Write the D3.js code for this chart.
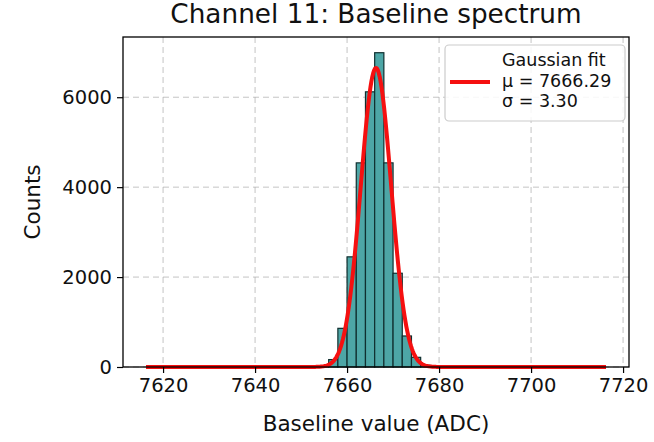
<!DOCTYPE html>
<html>
<head>
<meta charset="utf-8">
<script src="https://cdn.jsdelivr.net/npm/d3@7"></script>
<style>
  body { margin: 0; background: #fff; }
  svg { font-family: "DejaVu Sans", sans-serif; }
</style>
</head>
<body>
<div id="chart"></div>
<script>
// histogram bins (left edges, width 2 ADC) and counts
const binLefts = [7654, 7656, 7658, 7660, 7662, 7664, 7666, 7668, 7670, 7672, 7674, 7676, 7678];
const counts   = [25, 165, 860, 2450, 4540, 6120, 6990, 4540, 2085, 690, 215, 40, 10];
const binWidth = 2;

// gaussian fit parameters
const fitMu = 7666.29;
const fitSigma = 3.30;
const fitAmp = 6650;
const fitRange = [7616.29, 7716.29];

const xTicks = [7620, 7640, 7660, 7680, 7700, 7720];
const yTicks = [0, 2000, 4000, 6000];
const legendLines = ["Gaussian fit", "\u03bc = 7666.29", "\u03c3 = 3.30"];

const width = 654, height = 442;
const plotLeft = 123, plotRight = 629, plotTop = 37, plotBottom = 367;

const svg = d3.select("#chart").append("svg")
  .attr("width", width)
  .attr("height", height);

const x = d3.scaleLinear()
  .domain([7611.29, 7721.29])
  .range([plotLeft, plotRight]);

const y = d3.scaleLinear()
  .domain([0, d3.max(counts) * 1.05])
  .range([plotBottom, plotTop]);

// grid
const grid = svg.append("g")
  .attr("stroke", "#b0b0b0")
  .attr("stroke-opacity", 0.75)
  .attr("stroke-width", 1)
  .attr("stroke-dasharray", "6,4");

grid.selectAll(".gx")
  .data(xTicks)
  .enter().append("line")
  .attr("x1", d => x(d)).attr("x2", d => x(d))
  .attr("y1", plotTop).attr("y2", plotBottom);

grid.selectAll(".gy")
  .data(yTicks)
  .enter().append("line")
  .attr("x1", plotLeft).attr("x2", plotRight)
  .attr("y1", d => y(d)).attr("y2", d => y(d));

// bars
svg.append("g")
  .selectAll("rect")
  .data(binLefts)
  .enter().append("rect")
  .attr("x", d => x(d))
  .attr("width", d => x(d + binWidth) - x(d))
  .attr("y", (d, i) => y(counts[i]))
  .attr("height", (d, i) => y(0) - y(counts[i]))
  .attr("fill", "#4da6a6")
  .attr("stroke", "#0f2f2f")
  .attr("stroke-width", 1.2);

// fit curve
const fitX = d3.range(0, 501).map(i => fitRange[0] + (fitRange[1] - fitRange[0]) * i / 500);
const gauss = v => fitAmp * Math.exp(-0.5 * Math.pow((v - fitMu) / fitSigma, 2));

svg.append("path")
  .datum(fitX)
  .attr("d", d3.line().x(d => x(d)).y(d => y(gauss(d))))
  .attr("fill", "none")
  .attr("stroke", "#f51010")
  .attr("stroke-width", 4)
  .attr("stroke-linejoin", "round");

// axes
const xAxis = svg.append("g")
  .attr("transform", `translate(0,${plotBottom})`)
  .call(d3.axisBottom(x).tickValues(xTicks).tickSize(6).tickPadding(5).tickFormat(d3.format("d")));

const yAxis = svg.append("g")
  .attr("transform", `translate(${plotLeft},0)`)
  .call(d3.axisLeft(y).tickValues(yTicks).tickSize(6).tickPadding(5).tickFormat(d3.format("d")));

[xAxis, yAxis].forEach(a => {
  a.select(".domain").remove();
  a.selectAll("line").attr("stroke", "#000").attr("stroke-width", 1.2);
  a.selectAll("text").attr("font-size", 19.5).attr("font-family", "DejaVu Sans").attr("fill", "#111");
});

// frame
svg.append("rect")
  .attr("x", plotLeft).attr("y", plotTop)
  .attr("width", plotRight - plotLeft).attr("height", plotBottom - plotTop)
  .attr("fill", "none")
  .attr("stroke", "#000")
  .attr("stroke-width", 1.3);

// labels
svg.append("text")
  .attr("x", (plotLeft + plotRight) / 2).attr("y", 23)
  .attr("text-anchor", "middle")
  .attr("font-size", 26.3)
  .attr("fill", "#111")
  .text("Channel 11: Baseline spectrum");

svg.append("text")
  .attr("x", (plotLeft + plotRight) / 2).attr("y", 431)
  .attr("text-anchor", "middle")
  .attr("font-size", 21.5)
  .attr("fill", "#111")
  .text("Baseline value (ADC)");

svg.append("text")
  .attr("transform", `translate(40,${(plotTop + plotBottom) / 2}) rotate(-90)`)
  .attr("text-anchor", "middle")
  .attr("font-size", 21.5)
  .attr("fill", "#111")
  .text("Counts");

// legend
const legend = svg.append("g");
legend.append("rect")
  .attr("x", 445).attr("y", 45)
  .attr("width", 180).attr("height", 76)
  .attr("rx", 4)
  .attr("fill", "#fff").attr("fill-opacity", 0.85)
  .attr("stroke", "#cccccc").attr("stroke-width", 1.2);

legend.append("line")
  .attr("x1", 450).attr("x2", 490)
  .attr("y1", 82).attr("y2", 82)
  .attr("stroke", "#f51010")
  .attr("stroke-width", 4);

legend.selectAll(".lt")
  .data(legendLines)
  .enter().append("text")
  .attr("x", 502)
  .attr("y", (d, i) => 66 + i * 20.5)
  .attr("font-size", 17.5)
  .attr("fill", "#111")
  .text(d => d);
</script>
</body>
</html>
